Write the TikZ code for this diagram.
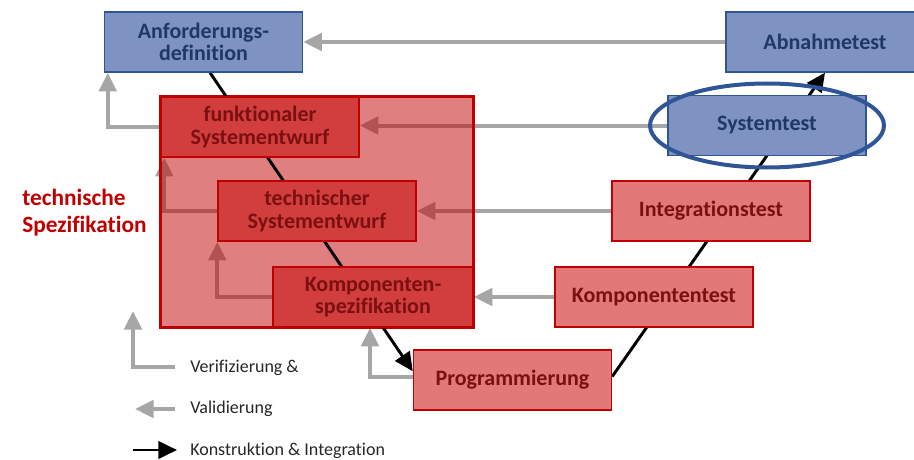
\documentclass[tikz,border=0pt]{standalone}
\usepackage{fontspec}
\setmainfont{Carlito}[Ligatures=CommonOff]
\usetikzlibrary{arrows.meta}
\definecolor{vmblue}{HTML}{2F5597}
\definecolor{vmbluefill}{HTML}{7F93C2}
\definecolor{vmbluetext}{HTML}{1F3864}
\definecolor{vmred}{HTML}{C00000}
\definecolor{vmredfill}{HTML}{E27878}
\definecolor{vmreddark}{HTML}{D23E3E}
\definecolor{vmredtext}{HTML}{7A1010}
\definecolor{vmgray}{HTML}{A6A6A6}
\definecolor{vmlegend}{HTML}{262626}
\pgfdeclarelayer{back}
\pgfdeclarelayer{frame}
\pgfdeclarelayer{vline}
\pgfsetlayers{back,frame,vline,main}

\begin{document}
\begin{tikzpicture}[x=0.75pt,y=0.75pt,yscale=-1,xscale=1,
  box/.style={draw, line width=1.1pt, minimum width=148.5pt, minimum height=45pt, inner sep=0pt, align=center, font=\fontsize{16.5}{17}\selectfont\bfseries},
  bluebox/.style={box, draw=vmblue, fill=vmbluefill, text=vmbluetext},
  redbox/.style={box, draw=vmred, fill=vmredfill, text=vmredtext},
  inbox/.style={box, draw=vmred, fill=vmreddark, text=vmredtext},
  valarrow/.style={draw=vmgray, line width=3pt, -{Triangle[length=14pt,width=13pt]}},
  konarrow/.style={draw=black, line width=2.2pt, -{Triangle[length=14pt,width=13pt]}},
  legtext/.style={anchor=base west, inner sep=0pt, font=\fontsize{13.5}{16}\selectfont, text=vmlegend}]
\clip (0,0) rectangle (914,460);

%left branch
\node [bluebox] (anf) at (203.5,42) {Anforderungs-\\definition};
\node [inbox] (fse) at (260,127) {funktionaler\\Systementwurf};
\node [inbox] (tse) at (317,211) {technischer\\Systementwurf};
\node [inbox, minimum width=150pt] (ks) at (373,297) {Komponenten-\\spezifikation};
\node [redbox] (prog) at (512.5,380) {Programmierung};
%right branch
\node [redbox] (kt) at (654,297) {Komponententest};
\node [redbox] (int) at (711,211) {Integrationstest};
\node [bluebox] (sys) at (767,125.5) {Systemtest};
\node [bluebox] (abn) at (825,42) {Abnahmetest};

%highlight
\draw [vmblue, line width=3pt] (sys.center) ellipse [x radius=87.75pt, y radius=31.5pt];
\node [anchor=north west, inner sep=0pt, align=left, text=vmred, font=\fontsize{17.5}{20}\selectfont\bfseries] (techlabel) at (22,189) {technische\\Spezifikation};

\begin{pgfonlayer}{frame}
\draw [vmred, line width=2.6pt, fill=vmred, fill opacity=0.5] (fse.north west) rectangle (ks.south east);
\end{pgfonlayer}

\begin{pgfonlayer}{vline}
\draw [konarrow] (anf.-78) -- (prog.175);
\draw [konarrow] (prog.2) -- (abn.south);
\end{pgfonlayer}

\begin{pgfonlayer}{back}
%validation
\draw [valarrow] (abn.west) -- (anf.east);
\draw [valarrow] (sys.west) -- (sys.west -| fse.east);
\draw [valarrow] (int.west) -- (tse.east);
\draw [valarrow] (kt.west) -- (ks.east);
%verification
\draw [valarrow] (fse.west) -| ([xshift=3pt]anf.south west);
\draw [valarrow] (tse.west) -| ([xshift=3pt]fse.south west);
\draw [valarrow] (ks.west) -| (tse.south west);
\draw [valarrow] ([yshift=-2pt]prog.west) -| ([xshift=-2.25pt]ks.south);
\end{pgfonlayer}

%legend
\node [legtext] (verif) at (190,372) {Verifizierung \&};
\node [legtext] (valid) at (190,413) {Validierung};
\node [legtext] (konst) at (190,455) {Konstruktion \& Integration};
\coordinate (verifstart) at (175,367);
\coordinate (validstart) at (175,409);
\coordinate (konststart) at (133,450);
\draw [valarrow] (verifstart) -| ++(-42,-56);
\draw [valarrow] (validstart) -- ++(-40,0);
\draw [konarrow] (konststart) -- ++(44,0);

\end{tikzpicture}
\end{document}
